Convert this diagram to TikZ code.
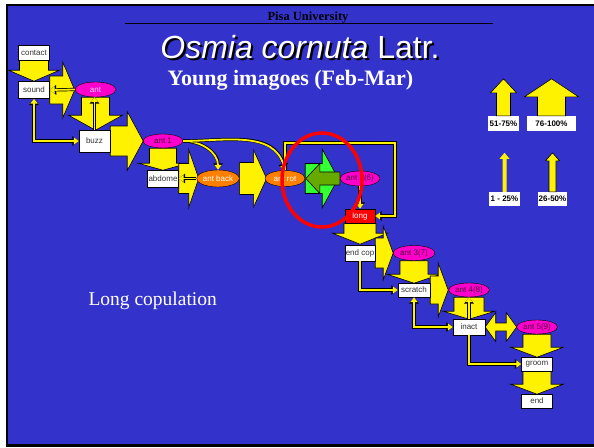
\documentclass[tikz,border=0pt]{standalone}
\usepackage{fontspec}
\setmainfont{Liberation Serif}
\setsansfont{Liberation Sans}
\usetikzlibrary{shapes.geometric,arrows.meta,backgrounds}
\definecolor{slideblue}{RGB}{51,51,204}
\definecolor{antpink}{RGB}{255,0,204}
\definecolor{antorange}{RGB}{255,128,0}
\definecolor{leafgreen}{RGB}{51,255,51}
\definecolor{mossgreen}{RGB}{102,170,0}
\tikzset{
  box/.style = {draw=black, fill=white, text=black!80, inner sep=0pt,
    minimum width=31pt, minimum height=15pt, font=\sffamily\fontsize{8}{9}\selectfont},
  antnode/.style = {ellipse, draw=black, fill=antpink, text=black!70!antpink, inner sep=0pt,
    minimum width=41pt, minimum height=15pt, font=\sffamily\fontsize{8}{9}\selectfont},
  backnode/.style = {antnode, fill=antorange, text=white},
  key/.style = {fill=white, inner sep=0pt, minimum height=15pt,
    font=\sffamily\bfseries\fontsize{8}{9}\selectfont},
  blockarrow/.style = {fill=yellow, draw=black, line width=0.6pt},
  yline/.style = {draw=yellow, line width=1.8pt, >={Triangle[length=5pt,width=7pt]},
    preaction={draw=black, line width=3.2pt, >={Triangle[length=6.5pt,width=9.5pt]}}}
}
% block arrow: [style]{base}{angle}{length}{shaft half width}{head half width}{head length}
\newcommand{\bigarrow}[7][]{%
  \draw[blockarrow,#1,shift={#2},rotate=#3] (0,-#5) -- ({#4-#7},-#5) -- ({#4-#7},-#6)
    -- (#4,0) -- ({#4-#7},#6) -- ({#4-#7},#5) -- (0,#5) -- cycle;}
% white text with a dark drop shadow
\newcommand{\shadowed}[1]{\makebox[0pt][l]{\hspace{2.2pt}\raisebox{-2.2pt}{\color{black}#1}}#1}

\begin{document}
\begin{tikzpicture}[x=1pt,y=-1pt]
  \useasboundingbox (0,0) rectangle (594,447);
  % slide
  \begin{scope}[on background layer]
    \fill[white] (0,0) rectangle (594,447);
    \fill[slideblue] (8,6) rectangle (594,444);
    \draw[line width=2.5pt] (7,447) -- (7,5) -- (600,5);
    \draw[line width=2.5pt] (7,445.5) -- (600,445.5);
  \end{scope}

  % heading
  \node[anchor=base, font=\bfseries\fontsize{12.5}{14}\selectfont] (uni) at (308,20.5) {Pisa University};
  \draw[line width=0.8pt] (125,23) -- (493,23);
  \node[anchor=base, text=white, font=\sffamily\fontsize{32}{36}\selectfont] (title) at (300,58) {\shadowed{\textit{Osmia cornuta} Latr.}};
  \node[anchor=base, text=white, font=\bfseries\fontsize{22}{26}\selectfont] (sub) at (290.5,85) {Young imagoes (Feb-Mar)};
  \node[anchor=base west, text=white, font=\fontsize{19.5}{22}\selectfont] (note) at (85,305) {Long copulation};

  % behaviour units
  \node[box] (contact) at (34,52.5) {contact};
  \node[box, minimum height=17pt] (sound) at (34,90) {sound};
  \node[box, minimum height=22pt] (buzz) at (94.5,141) {buzz};
  \node[box, minimum height=17pt] (abdome) at (163,178.5) {abdome};
  \node[antnode, text=white!80!antpink] (ant) at (95.5,89.5) {ant};
  \node[antnode, minimum width=40pt, minimum height=14pt] (ant1) at (163,141) {ant 1};
  \node[backnode, minimum width=40pt, minimum height=17pt] (antback) at (218,178.5) {ant back};
  \node[backnode, minimum width=40pt, minimum height=16pt] (antrot) at (285,178.5) {ant rot};
  \node[antnode, minimum width=40pt] (ant2) at (360,178.5) {ant 2(6)};
  \node[box, fill=red, text=white, minimum width=30pt, minimum height=14pt] (long) at (360,216) {long};
  \node[box, minimum width=30pt, minimum height=16pt] (endcop) at (360,253) {end cop};
  \node[antnode, minimum width=42pt] (ant3) at (414,253) {ant 3(7)};
  \node[box, minimum width=32pt, minimum height=14pt] (scratch) at (414,290) {scratch};
  \node[antnode, minimum height=14pt] (ant4) at (469,290) {ant 4(8)};
  \node[box, minimum width=32pt, minimum height=16pt] (inact) at (469,327) {inact};
  \node[antnode, minimum height=14pt] (ant5) at (537,327) {ant 5(9)};
  \node[box, minimum height=14pt] (groom) at (537,364) {groom};
  \node[box, minimum height=14pt] (end) at (537,401) {end};

  % transitions
  \begin{scope}[on background layer]
    \bigarrow{(contact.south)}{-90}{21}{14.5}{25.5}{11}
    \bigarrow{(ant.south)}{-90}{33}{14}{27}{15}
    \bigarrow{(sound.east)}{0}{25}{14}{28}{12}
    \bigarrow{(buzz.east)}{0}{33}{15}{29.5}{16}
    \bigarrow{(ant1.south)}{-90}{22}{13.5}{25}{7}
    \bigarrow{(abdome.east)}{0}{20}{15}{29}{10}
    \bigarrow{(antback.east)}{0}{27}{16}{28.5}{13}
    \bigarrow{(long.south)}{-90}{21}{16}{27.5}{11}
    \bigarrow{(endcop.east)}{0}{18}{15}{27}{10}
    \bigarrow{(ant3.south)}{-90}{22.5}{14}{27}{9}
    \bigarrow{(scratch.east)}{0}{18}{14}{27}{10}
    \bigarrow{(ant4.south)}{-90}{22}{15}{26}{8}
    \draw[blockarrow] (inact.east) -- ++(10.5,-14.5) -- ++(0,10.5) -- ++(10.5,0) -- ++(0,-10.5)
      -- ++(10.5,14.5) -- ++(-10.5,14.5) -- ++(0,-10.5) -- ++(-10.5,0) -- ++(0,10.5) -- cycle;
    \bigarrow{(ant5.south)}{-90}{23}{14}{26.5}{10}
    \bigarrow{(groom.south)}{-90}{23}{14}{26.5}{10}
  \end{scope}
  \bigarrow[fill=leafgreen]{(antrot.east)}{0}{33}{15}{29.5}{16}
  \bigarrow[fill=mossgreen]{(ant2.west)}{180}{34}{6.5}{15}{14}

  % links
  \draw[yline,->] (ant.west) -- (sound.east);
  \draw[yline,->] (buzz.north) -- (buzz.north |- ant.south);
  \draw[yline,<->] (sound.south) |- (buzz.west);
  \draw[yline,->] (ant1.east) to[out=0,in=90] (antback.north);
  \draw[yline,->] (ant1.east) to[out=0,in=105] (antrot.north);
  \draw[yline,->] (antback.west) -- (abdome.east);
  \coordinate (loop) at (395,143);
  \draw[yline,->] (antrot.north) |- (loop) |- (long.east);
  \draw[yline,->] (ant2.south) -- (long.north);
  \draw[yline,->] (endcop.south) |- (scratch.west);
  \draw[yline,<->] (scratch.south) |- (inact.west);
  \draw[yline,->] (inact.north) -- (ant4.south);
  \draw[yline,->] (inact.south) |- (groom.west);

  % legend
  \node[key, minimum width=31pt] (k51) at (503.5,123.5) {51-75\%};
  \node[key, minimum width=49pt] (k76) at (551.5,123.5) {76-100\%};
  \node[key, minimum width=31pt, minimum height=14pt] (k1) at (504.5,199) {1 - 25\%};
  \node[key, minimum width=29pt, minimum height=14pt] (k26) at (552.5,199) {26-50\%};
  \bigarrow{(k51.north)}{90}{37}{7}{13}{14}
  \bigarrow{(k76.north)}{90}{37}{14}{27}{18}
  \bigarrow[draw=none]{(k1.north)}{90}{39}{2}{5}{6}
  \bigarrow{(k26.north)}{90}{39}{3.5}{7}{8}

  % highlight
  \draw[red, line width=3.5pt] (322,180) ellipse [x radius=40, y radius=47];
\end{tikzpicture}
\end{document}
